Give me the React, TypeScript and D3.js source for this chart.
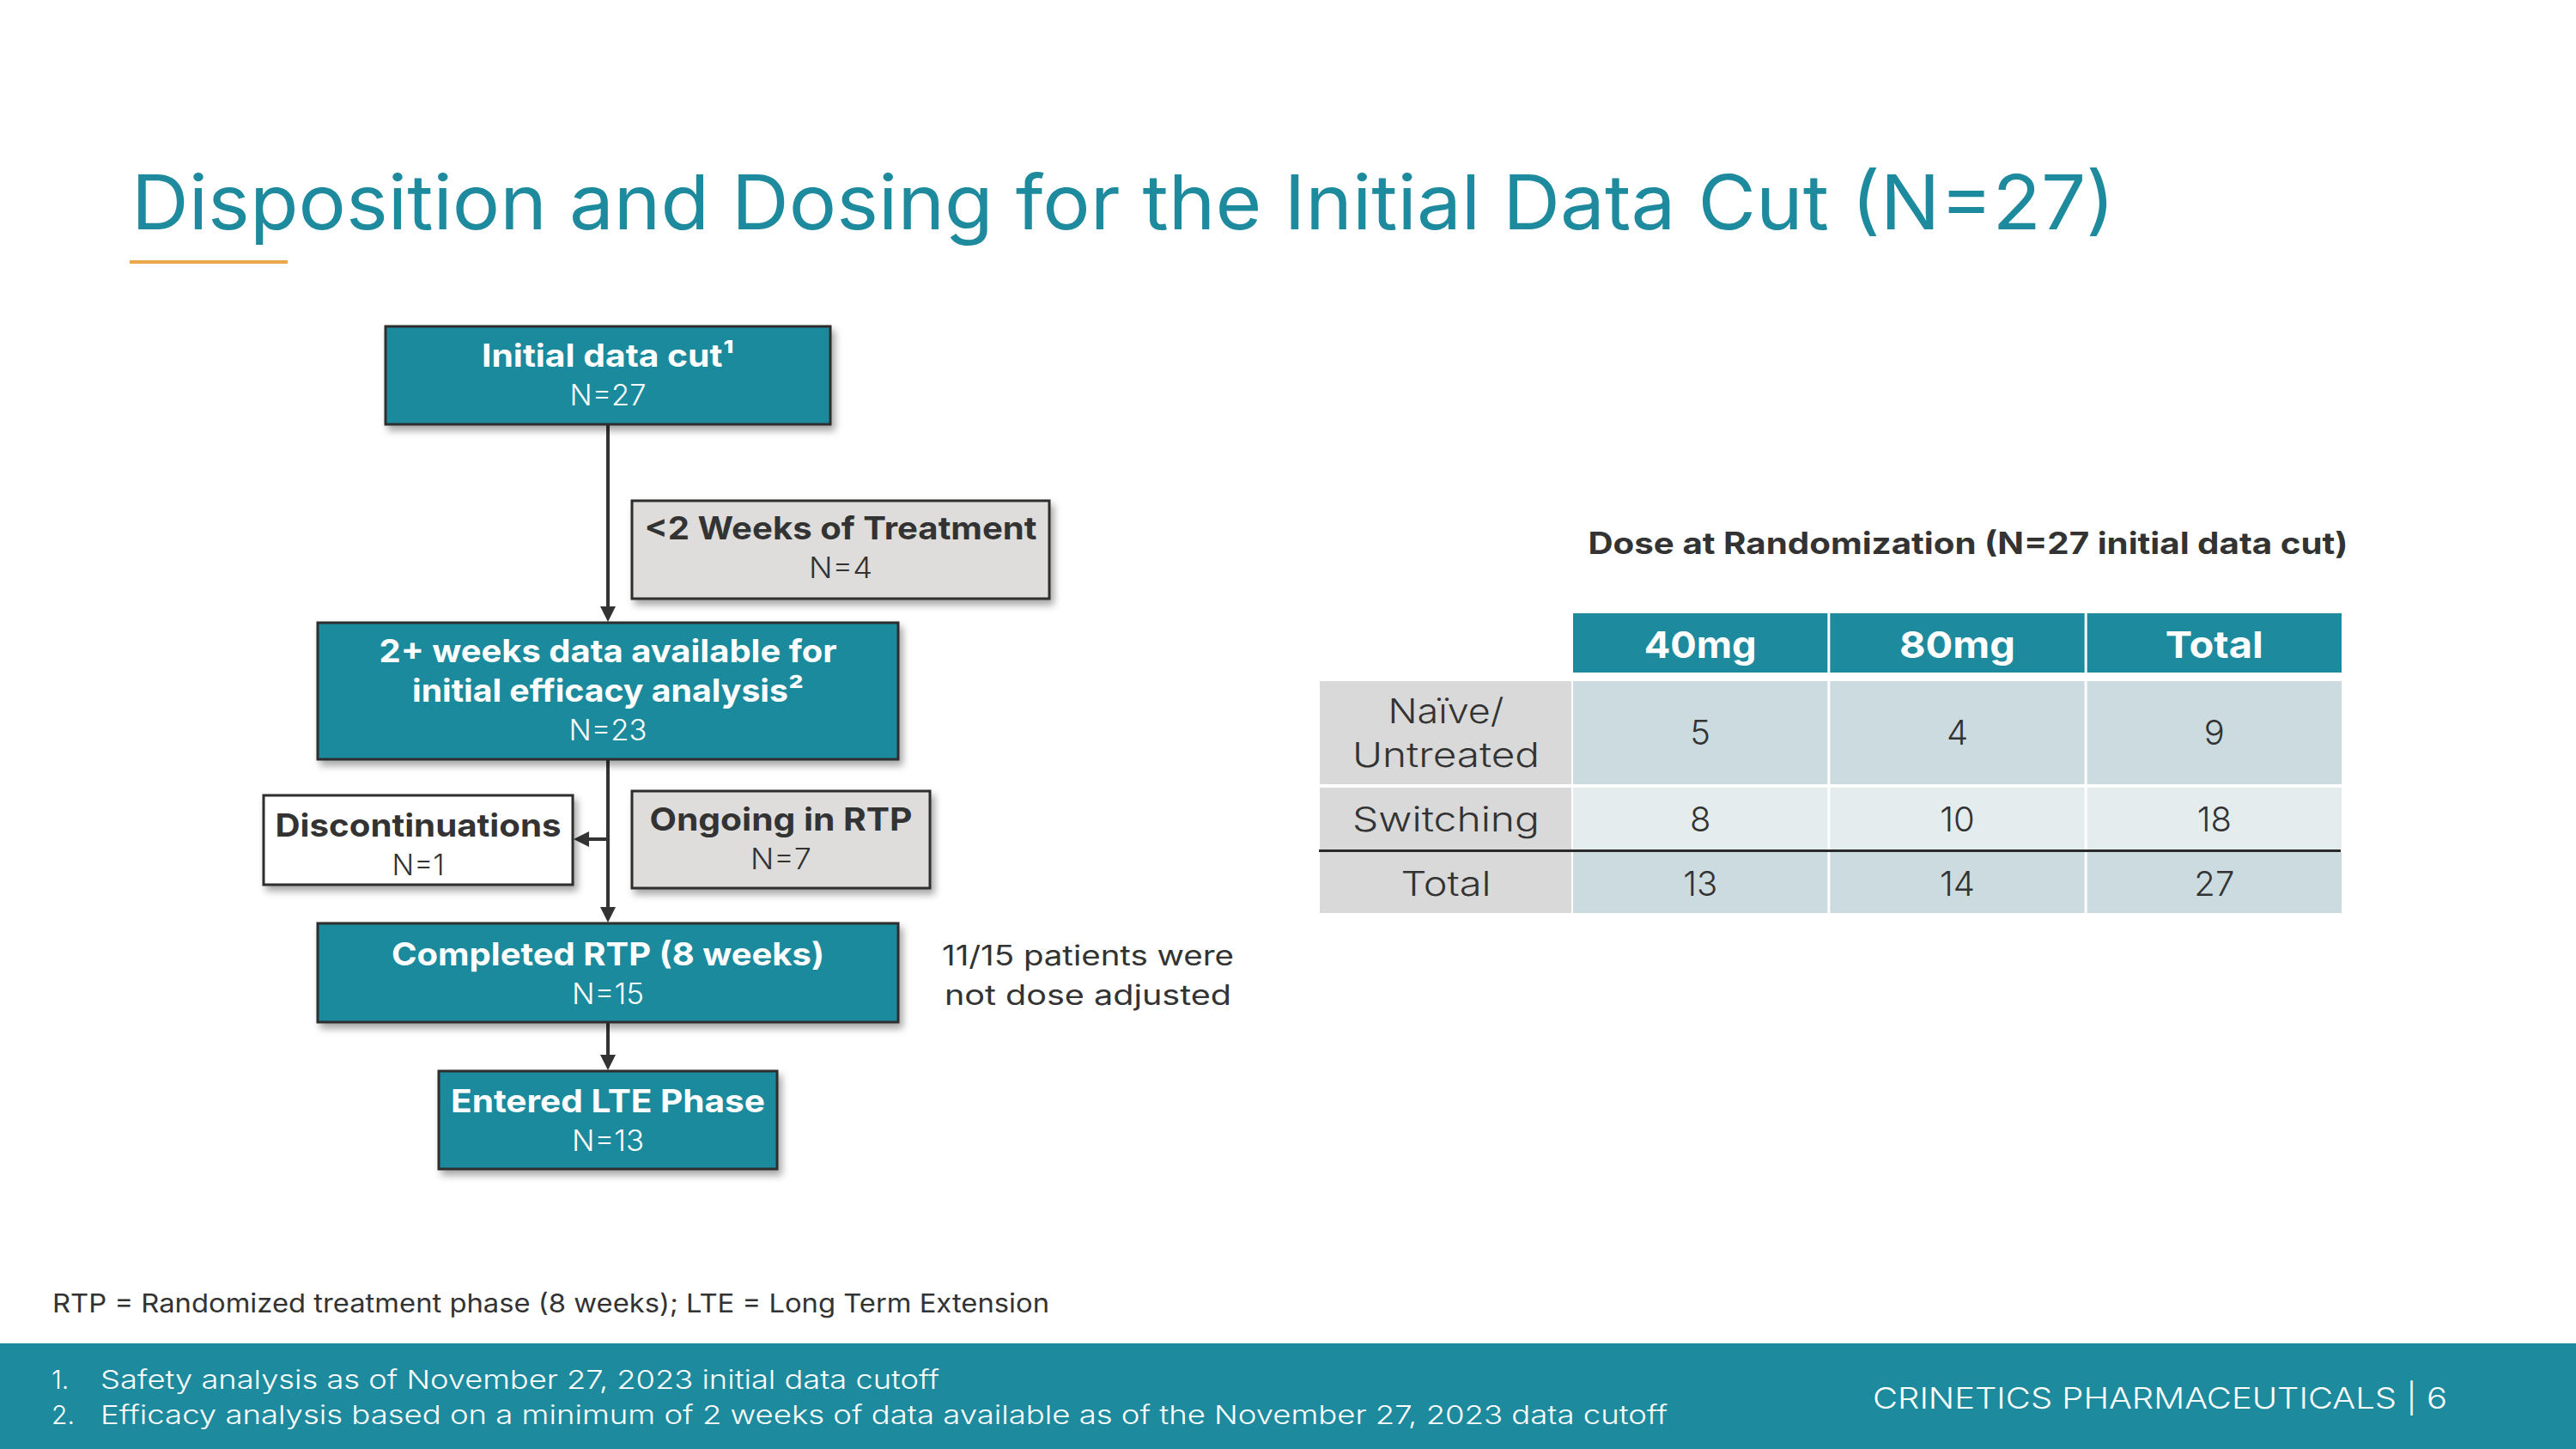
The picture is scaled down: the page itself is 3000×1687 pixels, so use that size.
import React from "react";
import * as d3 from "d3";

// ---------- DATA ----------
const titleText = "Disposition and Dosing for the Initial Data Cut (N=27)";
const flowLabels: string[][] = [
  ["Initial data cut¹"],
  ["<2 Weeks of Treatment"],
  ["2+ weeks data available for", "initial efficacy analysis²"],
  ["Discontinuations"],
  ["Ongoing in RTP"],
  ["Completed RTP (8 weeks)"],
  ["Entered LTE Phase"],
];
const flowN: number[] = [27, 4, 23, 1, 7, 15, 13];
const flowKind: string[] = ["main", "gray", "main", "white", "gray", "main", "main"];
const sideNote: string[] = ["11/15 patients were", "not dose adjusted"];

const tableTitle = "Dose at Randomization (N=27 initial data cut)";
const doseGroups: string[] = ["40mg", "80mg", "Total"];
const rowLabels: string[][] = [["Naïve/", "Untreated"], ["Switching"], ["Total"]];
const naiveValues: number[] = [5, 4, 9];
const switchingValues: number[] = [8, 10, 18];
const totalValues: number[] = [13, 14, 27];
const tableRows: number[][] = [naiveValues, switchingValues, totalValues];

const abbrevNote = "RTP = Randomized treatment phase (8 weeks); LTE = Long Term Extension";
const footnotes: string[] = [
  "Safety analysis as of November 27, 2023 initial data cutoff",
  "Efficacy analysis based on a minimum of 2 weeks of data available as of the November 27, 2023 data cutoff",
];
const brand = "CRINETICS PHARMACEUTICALS  |  6";

// ---------- LAYOUT ----------
const W = 3000;
const H = 1687;
const TEAL = "#1E8A9D";
const DARK = "#333333";
const FONT = "Inter, 'Open Sans', sans-serif";

// box geometry [x0, y0, x1, y1], first-line baseline, label widths, N width
const boxGeom = [
  { r: [449, 380, 967, 494], b: 427, lens: [294], nLen: 89 },
  { r: [736, 583, 1222, 697], b: 628, lens: [457], nLen: 74 },
  { r: [370, 725, 1046, 884], b: 771, lens: [533, 456], nLen: 91 },
  { r: [307, 926, 667, 1030], b: 974, lens: [333], nLen: 61 },
  { r: [736, 921, 1083, 1034], b: 967, lens: [306], nLen: 71 },
  { r: [370, 1075, 1046, 1190], b: 1124, lens: [504], nLen: 84 },
  { r: [511, 1247, 905, 1361], b: 1295, lens: [366], nLen: 84 },
];
const LINE_GAP = 46;

const fills: Record<string, string> = { main: TEAL, gray: "#DEDDDC", white: "#FFFFFF" };

function T(props: {
  x: number; y: number; text: string; size: number; weight?: number; fill?: string;
  anchor?: string; len?: number;
}) {
  const { x, y, text, size, weight = 400, fill = DARK, anchor = "middle", len } = props;
  return (
    <text
      x={x}
      y={y}
      fontFamily={FONT}
      fontSize={size}
      fontWeight={weight}
      fill={fill}
      textAnchor={anchor}
      {...(len ? { textLength: len, lengthAdjust: "spacingAndGlyphs" } : {})}
    >
      {text}
    </text>
  );
}

function Arrow({ x1, y1, x2, y2 }: { x1: number; y1: number; x2: number; y2: number }) {
  const ang = Math.atan2(y2 - y1, x2 - x1);
  const L = 18, Wd = 9;
  const bx = x2 - L * Math.cos(ang), by = y2 - L * Math.sin(ang);
  const px = -Math.sin(ang) * Wd, py = Math.cos(ang) * Wd;
  const path = d3.path();
  path.moveTo(x2, y2);
  path.lineTo(bx + px, by + py);
  path.lineTo(bx - px, by - py);
  path.closePath();
  return (
    <g>
      <line x1={x1} y1={y1} x2={bx} y2={by} stroke={DARK} strokeWidth={4} />
      <path d={path.toString()} fill={DARK} />
    </g>
  );
}

export default function App() {
  const cx = 708;
  const colX = d3.scaleBand<string>().domain(doseGroups).range([1832, 2727]).paddingInner(0.01);
  const rowY = [
    [793, 913],
    [917, 989],
    [992, 1063],
  ];
  const rowBase = [[842, 893, 867], [968], [1043]];
  const rowFill = ["#CBDBDF", "#E4ECEE", "#CBDBDF"];
  const headerLens = [131, 135, 114];
  const labelLens = [[135, 218], [218], [105]];

  return (
    <div style={{ width: W, height: H }}>
      <style>{`body{margin:0}`}</style>
      <svg width={W} height={H} viewBox={`0 0 ${W} ${H}`} style={{ display: "block" }}>
        <defs>
          <filter id="shadow" x="-10%" y="-10%" width="130%" height="140%">
            <feDropShadow dx={4} dy={6} stdDeviation={4} floodColor="#000" floodOpacity={0.35} />
          </filter>
        </defs>
        <rect width={W} height={H} fill="#FFFFFF" />

        {/* Title */}
        <T x={153} y={267} text={titleText} size={88} fill={TEAL} anchor="start" len={2310} />
        <rect x={151} y={303} width={184} height={4} fill="#E9A94B" />

        {/* Connectors */}
        <Arrow x1={cx} y1={494} x2={cx} y2={724} />
        <Arrow x1={cx} y1={884} x2={cx} y2={1074} />
        <Arrow x1={cx + 2} y1={977} x2={668} y2={977} />
        <Arrow x1={cx} y1={1190} x2={cx} y2={1246} />

        {/* Flow boxes */}
        {flowLabels.map((lines, i) => {
          const g = boxGeom[i];
          const [x0, y0, x1, y1] = g.r;
          const mid = (x0 + x1) / 2;
          const kind = flowKind[i];
          const tc = kind === "main" ? "#FFFFFF" : DARK;
          return (
            <g key={i}>
              <rect
                x={x0}
                y={y0}
                width={x1 - x0}
                height={y1 - y0}
                fill={fills[kind]}
                stroke="#2E2E2E"
                strokeWidth={3}
                filter="url(#shadow)"
              />
              {lines.map((ln, j) => (
                <T key={j} x={mid} y={g.b + j * LINE_GAP} text={ln} size={37} weight={700} fill={tc} len={g.lens[j]} />
              ))}
              <T x={mid} y={g.b + lines.length * LINE_GAP - 1} text={`N=${flowN[i]}`} size={34} weight={300} fill={tc} len={g.nLen} />
            </g>
          );
        })}

        {/* Side note */}
        {sideNote.map((s, i) => (
          <T key={i} x={1267} y={1124 + i * 46} text={s} size={32} weight={400} len={i === 0 ? 340 : 334} />
        ))}

        {/* Table */}
        <T x={2292} y={645} text={tableTitle} size={35} weight={700} len={885} />
        {doseGroups.map((gname, i) => {
          const x = colX(gname)!;
          const bw = colX.bandwidth();
          return (
            <g key={gname}>
              <rect x={x} y={714} width={bw} height={69} fill={TEAL} />
              <T x={x + bw / 2} y={766} text={gname} size={43} weight={700} fill="#FFFFFF" len={headerLens[i]} />
            </g>
          );
        })}
        {tableRows.map((vals, r) => {
          const [ya, yb] = rowY[r];
          return (
            <g key={r}>
              <rect x={1537} y={ya} width={293} height={yb - ya} fill="#D9D9D9" />
              {rowLabels[r].map((lab, j) => (
                <T key={j} x={1684} y={rowBase[r][j]} text={lab} size={40} weight={300} len={labelLens[r][j]} />
              ))}
              {vals.map((v, c) => {
                const x = colX(doseGroups[c])!;
                const bw = colX.bandwidth();
                const base = r === 0 ? rowBase[0][2] : rowBase[r][0];
                return (
                  <g key={c}>
                    <rect x={x} y={ya} width={bw} height={yb - ya} fill={rowFill[r]} />
                    <T x={x + bw / 2} y={base} text={String(v)} size={40} weight={300} />
                  </g>
                );
              })}
            </g>
          );
        })}
        <line x1={1536} x2={2726} y1={990.5} y2={990.5} stroke="#2A2A2A" strokeWidth={3} />

        {/* Abbreviations */}
        <T x={61} y={1528} text={abbrevNote} size={30} weight={400} anchor="start" len={1161} />

        {/* Footer band */}
        <rect x={0} y={1564} width={W} height={H - 1564} fill={TEAL} />
        {footnotes.map((f, i) => (
          <g key={i}>
            <T x={60} y={1617 + i * 41} text={`${i + 1}.`} size={30} weight={300} fill="#FFFFFF" anchor="start" />
            <T x={117} y={1617 + i * 41} text={f} size={30} weight={300} fill="#FFFFFF" anchor="start" len={i === 0 ? 977 : 1825} />
          </g>
        ))}
        <T x={2181} y={1640} text={brand} size={34} weight={300} fill="#FFFFFF" anchor="start" len={669} />
      </svg>
    </div>
  );
}
